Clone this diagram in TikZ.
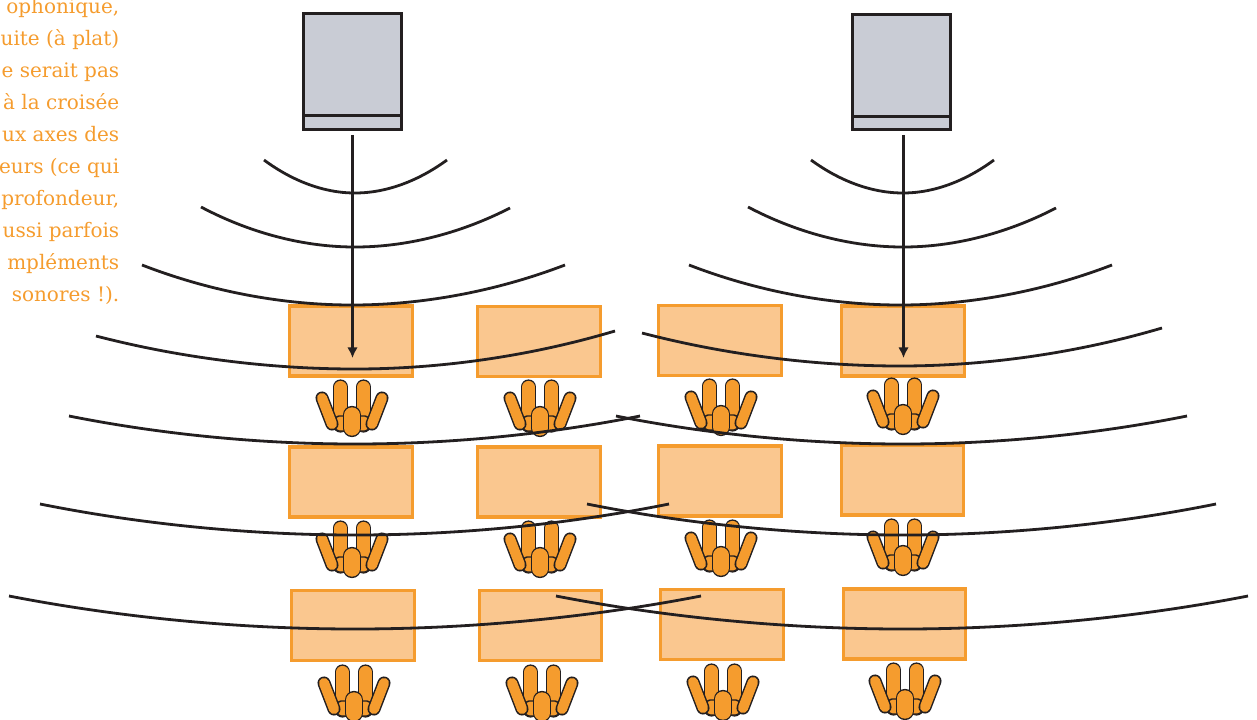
\documentclass[tikz,border=0pt]{standalone}
\usepackage{fontspec}
\setmainfont{DejaVu Serif}
\usetikzlibrary{arrows.meta,positioning}
\definecolor{orangefort}{HTML}{F59C2E}
\definecolor{orangeclair}{HTML}{FAC78F}
\definecolor{gris}{HTML}{C9CCD5}
\definecolor{noir}{HTML}{231F20}
\tikzset{auditeur/.pic={
  \tikzstyle{doigt}=[draw=noir,line width=1.1pt,line cap=round,double=orangefort]
  \draw[doigt,double distance=9.2pt] (-11.5,-23) -- (-11.5,15);
  \draw[doigt,double distance=9.2pt] (11.5,-23) -- (11.5,15);
  \draw[draw=noir,fill=orangefort,line width=1.1pt,rounded corners=3pt] (-17,6) rectangle (17,21);
  \draw[doigt,double distance=7.6pt] (-30,-12) -- (-20,14);
  \draw[doigt,double distance=7.6pt] (30,-12) -- (20,14);
  \draw[doigt,double distance=11.5pt] (0,5) -- (0,18);
}}
\begin{document}
\begin{tikzpicture}[x=0.75pt,y=-0.75pt]
\tikzstyle{siege}=[rectangle,draw=orangefort,fill=orangeclair,line width=2.4pt,inner sep=0pt,minimum width=92pt,minimum height=52.5pt]
\tikzstyle{hp}=[rectangle,draw=noir,fill=gris,line width=2.2pt,inner sep=0pt,outer sep=0pt,minimum width=74pt]
\tikzstyle{onde}=[draw=noir,line width=2.1pt]
\tikzstyle{son}=[-{Latex[length=8pt,width=8pt]},draw=noir,fill=noir,line width=1.9pt]

\useasboundingbox (0,0) rectangle (1257,719);

\node[text=orangefort,align=right,anchor=north east,inner sep=0pt,font=\fontsize{15}{24}\selectfont] (texte) at (119.5,-2)
  {ophonique,\\uite (à plat)\\e serait pas\\à la croisée\\ux axes des\\eurs (ce qui\\profondeur,\\ussi parfois\\mpléments\\sonores\ !).};

% sieges
\foreach \nom/\cx/\cy in {a1/351/341,a2/539/341.5,a3/720/340.5,a4/903/341,
                          b1/351/482,b2/539/482,b3/720/481,b4/902.5/480,
                          c1/353/625.5,c2/540.5/625.5,c3/722/624.5,c4/904.5/624}
  \node[siege] (siege\nom) at (\cx,\cy) {};

% auditeurs
\foreach \cx/\cy in {352/410,540/410,721/409,903/408,
                     352/551,540/551,721/550,903/549,
                     354/695,542/695,723/694,905/693}
  \pic at (\cx,\cy) {auditeur};

% enceintes
\node[hp,minimum height=77pt] (hpg) at (352.5,64.5) {};
\node[hp,minimum height=10.5pt,below=0pt of hpg] (hpgbas) {};
\node[hp,minimum height=77pt] (hpd) at (901.5,65.5) {};
\node[hp,minimum height=9.75pt,below=0pt of hpd] (hpdbas) {};

% ondes
\foreach \xa/\ya/\xb/\yb/\xc/\yc in {264/160/355/193/447/160,
    201/207/355/247/510/208, 142/265/352/305/565/265, 96/336/355/369/615/331,
    69/416/355/444/640/416, 40/504/355/535/669/504, 9/596/355/629/701/596,
    811/160/903/193/994/160, 748/207/903/247/1056/208, 689/265/900/305/1112/265,
    642/333/900/366/1162/328, 616/416/903/444/1187/416, 587/504/903/535/1216/504,
    556/596/903/629/1248/596}
  \draw[onde] (\xa,\ya) parabola bend (\xb,\yb) (\xc,\yc);

\coordinate (fing) at (352.5,358);
\coordinate (find) at (903.5,358);
\draw[son] ([yshift=-3.75pt]hpgbas.south) -- (fing);
\draw[son] ([xshift=1.5pt,yshift=-3.75pt]hpdbas.south) -- (find);
\end{tikzpicture}
\end{document}
